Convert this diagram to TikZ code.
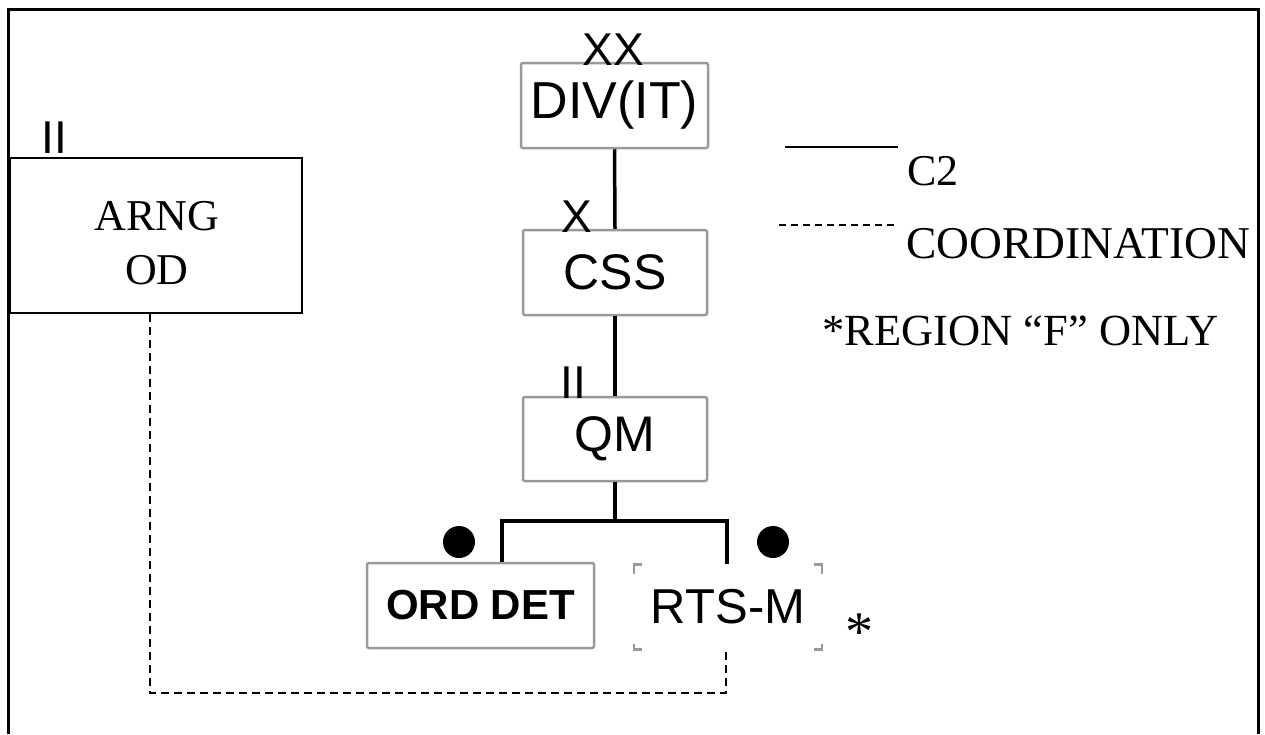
\documentclass[tikz,border=0pt]{standalone}
\usepackage{fontspec}
\setmainfont{Liberation Serif}
\setsansfont{Liberation Sans}
\definecolor{boxgray}{RGB}{153,153,153}
\tikzset{
  unit/.style={draw=boxgray, line width=2.5pt, rounded corners=2pt, fill=white, inner sep=0pt,
    font=\sffamily\fontsize{50}{54}\selectfont},
  corner/.style={draw=boxgray, line width=2.5pt},
  echelon/.style={anchor=base, inner sep=0pt, font=\sffamily\fontsize{46}{50}\selectfont},
  serifbig/.style={inner sep=0pt, font=\rmfamily\fontsize{45.5}{54}\selectfont},
  link/.style={line width=3.5pt},
  coord/.style={line width=1.8pt, dash pattern=on 8pt off 5pt},
  dot/.style={circle, fill=black, inner sep=0pt, minimum size=32pt}
}
\begin{document}
\begin{tikzpicture}[x=1pt,y=-1pt]
\useasboundingbox (0,0) rectangle (1265,734);
% outer frame (open at bottom)
\draw[line width=3pt] (8,734) -- (8,9) -- (1258,9) -- (1258,734);

% unit boxes
\node[unit, minimum width=187pt, minimum height=85pt, font=\sffamily\fontsize{52}{56}\selectfont] (DIV) at (614.5,105.5) {DIV(IT)};
\node[unit, minimum width=184pt, minimum height=85pt] (CSS) at (615,272.5) {CSS};
\node[unit, minimum width=184pt, minimum height=84pt] (QM) at (615,439) {QM};
\node[unit, minimum width=227pt, minimum height=85pt, font=\sffamily\bfseries\fontsize{42}{46}\selectfont] (ORD) at (480.5,605.5) {ORD DET};
\node[inner sep=0pt, minimum width=188pt, minimum height=85pt, font=\sffamily\fontsize{49}{53}\selectfont] (RTS) at (728,607) {RTS-M};
\node[draw=black, line width=2.5pt, inner sep=0pt, minimum width=292pt, minimum height=155pt] (ARNG) at (156,235.5) {};
\node[align=center, inner sep=0pt, font=\rmfamily\fontsize{44}{54}\selectfont] (arngtxt) at (157,243) {ARNG\\OD};

% RTS-M corner marks
\draw[corner] (RTS.north west) ++(0,10) -- ++(0,-10) -- ++(8,0);
\draw[corner] (RTS.north east) ++(-8,0) -- ++(8,0) -- ++(0,10);
\draw[corner] (RTS.south west) ++(0,-6) -- ++(0,6) -- ++(8,0);
\draw[corner] (RTS.south east) ++(-8,0) -- ++(8,0) -- ++(0,-6);

% echelon labels
\node[echelon] (lxx) at (613,65) {XX};
\node[echelon] (lx) at (577,232) {X};
\node[echelon] (lii) at (573,398) {II};
\node[echelon] (lii2) at (54,153) {II};

% C2 connectors
\draw[link] (DIV.south) -- (CSS.north);
\draw[link] (CSS.south) -- (QM.north);
\coordinate (barL) at (502,521);
\coordinate (barR) at (727,521);
\draw[link] (QM.south) -- (QM.south |- barL);
\draw[link] (barL |- ORD.north) -- (barL) -- (barR) -- (barR |- RTS.north);

% dots
\node[dot] (dot1) at (459,542) {};
\node[dot] (dot2) at (773,542) {};

% coordination line
\coordinate (cl) at (150,693);
\coordinate (cr) at (726,693);
\draw[coord] (ARNG.south -| cl) -- (cl) -- (cr) -- (cr |- RTS.south);

% asterisk
\node[inner sep=0pt, anchor=base, font=\rmfamily\fontsize{56}{60}\selectfont] (ast) at (859,650) {*};

% legend
\coordinate (lg1a) at (785,147);
\coordinate (lg1b) at (898,147);
\draw[line width=2pt] (lg1a) -- (lg1b);
\node[inner sep=0pt, anchor=base west, font=\rmfamily\fontsize{44}{50}\selectfont] (c2) at (907,185) {C2};
\coordinate (lg2a) at (779,225);
\coordinate (lg2b) at (898,225);
\draw[line width=1.6pt, dash pattern=on 7pt off 5pt] (lg2a) -- (lg2b);
\node[serifbig, anchor=base west] (coordtxt) at (906,258) {COORDINATION};
\node[inner sep=0pt, anchor=base west, font=\rmfamily\fontsize{44.5}{50}\selectfont] (region) at (822,345) {*REGION “F” ONLY};
\end{tikzpicture}
\end{document}
